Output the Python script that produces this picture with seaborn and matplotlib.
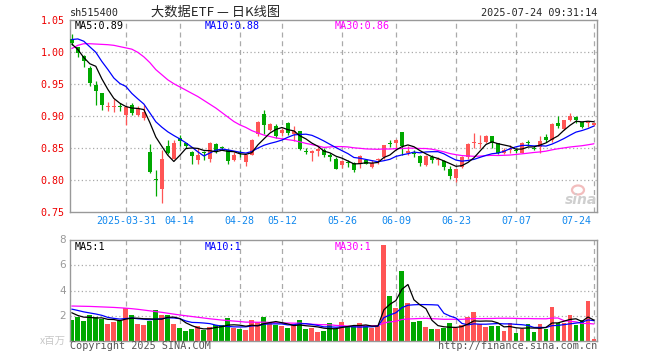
import numpy as np
import pandas as pd
import matplotlib
matplotlib.use("Agg")
import matplotlib.pyplot as plt
from matplotlib.patches import Ellipse
import seaborn as sns

# ---------------- data ----------------
months = {3: [18, 19, 20, 21, 24, 25, 26, 27, 28, 31],
          4: [1, 2, 3, 7, 8, 9, 10, 11, 14, 15, 16, 17, 18, 21, 22, 23, 24, 25, 28, 29, 30],
          5: [6, 7, 8, 9, 12, 13, 14, 15, 16, 19, 20, 21, 22, 23, 26, 27, 28, 29, 30],
          6: [3, 4, 5, 6, 9, 10, 11, 12, 13, 16, 17, 18, 19, 20, 23, 24, 25, 26, 27, 30],
          7: [1, 2, 3, 4, 7, 8, 9, 10, 11, 14, 15, 16, 17, 18, 21, 22, 23, 24]}
dates = [f"2025-{m:02d}-{d:02d}" for m, ds in months.items() for d in ds]

tick_dates = ["2025-03-31", "2025-04-14", "2025-04-28", "2025-05-12", "2025-05-26",
              "2025-06-09", "2025-06-23", "2025-07-07", "2025-07-24"]
tick_labels = ["2025-03-31", "04-14", "04-28", "05-12", "05-26", "06-09", "06-23", "07-07", "07-24"]

opens = [1.0214, 1.0078, 0.9948, 0.9755, 0.9495, 0.9365, 0.9150, 0.9145, 0.9148, 0.9026,
         0.9172, 0.9016, 0.8974, 0.8443, 0.8016, 0.7870, 0.8534, 0.8340, 0.8658, 0.8575,
         0.8440, 0.8316, 0.8440, 0.8340, 0.8560, 0.8512, 0.8480, 0.8316, 0.8435, 0.8290,
         0.8400, 0.8720, 0.9030, 0.8790, 0.8850, 0.8740, 0.8896, 0.8724, 0.8766, 0.8448,
         0.8430, 0.8464, 0.8480, 0.8400, 0.8340, 0.8240, 0.8285, 0.8264, 0.8250, 0.8316,
         0.8212, 0.8322, 0.8368, 0.8578, 0.8585, 0.8756, 0.8427, 0.8422, 0.8385, 0.8245,
         0.8368, 0.8320, 0.8306, 0.8170, 0.8030, 0.8212, 0.8368, 0.8575, 0.8570, 0.8600,
         0.8690, 0.8575, 0.8430, 0.8478, 0.8475, 0.8430, 0.8595, 0.8503, 0.8513, 0.8680,
         0.8630, 0.8896, 0.8808, 0.8948, 0.8990, 0.8910, 0.8890, 0.8860]
highs = [1.0286, 1.0090, 0.9960, 0.9792, 0.9547, 0.9370, 0.9224, 0.9266, 0.9210, 0.9150,
         0.9210, 0.9160, 0.9170, 0.8568, 0.8160, 0.8480, 0.8627, 0.8637, 0.8705, 0.8580,
         0.8460, 0.8510, 0.8460, 0.8600, 0.8575, 0.8530, 0.8490, 0.8446, 0.8480, 0.8410,
         0.8650, 0.8930, 0.9100, 0.8895, 0.8880, 0.8810, 0.8910, 0.8844, 0.8776, 0.8505,
         0.8480, 0.8516, 0.8500, 0.8430, 0.8360, 0.8310, 0.8316, 0.8280, 0.8394, 0.8326,
         0.8316, 0.8350, 0.8550, 0.8627, 0.8653, 0.8760, 0.8530, 0.8480, 0.8400, 0.8395,
         0.8394, 0.8358, 0.8310, 0.8223, 0.8180, 0.8378, 0.8585, 0.8740, 0.8705, 0.8705,
         0.8700, 0.8585, 0.8500, 0.8550, 0.8500, 0.8600, 0.8627, 0.8530, 0.8690, 0.8720,
         0.8896, 0.9000, 0.8948, 0.9050, 0.9000, 0.8912, 0.8910, 0.8896]
lows = [1.0120, 0.9920, 0.9776, 0.9480, 0.9170, 0.9104, 0.9089, 0.9063, 0.9080, 0.8870,
        0.9026, 0.9000, 0.8950, 0.8110, 0.7750, 0.7640, 0.8410, 0.8330, 0.8530, 0.8500,
        0.8260, 0.8260, 0.8320, 0.8280, 0.8430, 0.8470, 0.8260, 0.8295, 0.8370, 0.8220,
        0.8390, 0.8690, 0.8720, 0.8770, 0.8660, 0.8698, 0.8714, 0.8610, 0.8480, 0.8410,
        0.8300, 0.8375, 0.8370, 0.8300, 0.8170, 0.8187, 0.8210, 0.8135, 0.8187, 0.8250,
        0.8187, 0.8260, 0.8340, 0.8523, 0.8510, 0.8394, 0.8400, 0.8360, 0.8220, 0.8230,
        0.8264, 0.8238, 0.8160, 0.8016, 0.7980, 0.8187, 0.8340, 0.8500, 0.8510, 0.8575,
        0.8510, 0.8410, 0.8410, 0.8430, 0.8420, 0.8420, 0.8530, 0.8470, 0.8430, 0.8600,
        0.8600, 0.8810, 0.8780, 0.8927, 0.8896, 0.8810, 0.8834, 0.8845]
closes = [1.0146, 0.9984, 0.9860, 0.9516, 0.9400, 0.9172, 0.9160, 0.9152, 0.9140, 0.9141,
          0.9052, 0.9130, 0.9062, 0.8130, 0.8005, 0.8330, 0.8430, 0.8575, 0.8610, 0.8534,
          0.8380, 0.8390, 0.8420, 0.8590, 0.8446, 0.8500, 0.8306, 0.8394, 0.8425, 0.8400,
          0.8637, 0.8910, 0.8860, 0.8880, 0.8685, 0.8790, 0.8740, 0.8766, 0.8495, 0.8443,
          0.8460, 0.8495, 0.8390, 0.8360, 0.8180, 0.8306, 0.8275, 0.8160, 0.8378, 0.8254,
          0.8275, 0.8326, 0.8550, 0.8573, 0.8637, 0.8539, 0.8464, 0.8410, 0.8270, 0.8385,
          0.8316, 0.8326, 0.8213, 0.8067, 0.8170, 0.8368, 0.8575, 0.8580, 0.8585, 0.8690,
          0.8575, 0.8430, 0.8480, 0.8483, 0.8460, 0.8590, 0.8585, 0.8495, 0.8620, 0.8630,
          0.8880, 0.8845, 0.8938, 0.9000, 0.8948, 0.8834, 0.8896, 0.8896]
volumes = [1.65, 1.92, 1.57, 2.05, 1.92, 1.71, 1.33, 1.49, 1.57, 2.59,
           2.05, 1.33, 1.25, 1.57, 2.45, 2.05, 2.05, 1.33, 1.01, 0.77,
           0.93, 1.17, 0.91, 1.09, 1.25, 1.25, 1.79, 1.04, 0.93, 0.85,
           1.65, 1.52, 1.89, 1.39, 1.25, 1.20, 1.01, 1.25, 1.65, 0.93,
           1.01, 0.72, 0.77, 1.44, 0.93, 1.49, 1.12, 1.17, 1.41, 1.17,
           1.04, 1.17, 7.57, 3.60, 2.64, 5.52, 3.04, 1.52, 1.60, 1.12,
           0.93, 0.93, 1.04, 1.44, 1.04, 1.25, 1.92, 2.32, 1.31, 1.12,
           1.20, 1.20, 0.77, 1.44, 0.64, 0.99, 1.33, 0.72, 1.36, 0.99,
           2.72, 1.39, 1.39, 2.05, 1.25, 1.65, 3.17, 0.13]
# sessions before the visible window (only feed the moving averages)
prior_closes = [0.848, 0.911, 0.952, 0.955, 0.932, 0.931, 0.945, 0.974, 0.974, 0.965,
                1.063, 1.116, 1.083, 1.130, 1.073, 1.083, 1.038, 1.011, 1.003, 0.990,
                0.989, 1.022, 1.039, 1.025, 1.060, 1.041, 1.049, 1.000, 0.960]
prior_volumes = [2.22, 1.87, 2.35, 2.52, 2.31, 1.93, 2.09, 2.47, 3.49, 3.25,
                 2.83, 3.05, 3.37, 4.25, 3.85, 4.15, 3.43, 3.11, 2.57, 2.73,
                 2.97, 2.71, 2.89, 2.75, 2.75, 2.99, 2.24, 2.13, 2.17]
price_ticks = [1.05, 1.00, 0.95, 0.90, 0.85, 0.80, 0.75]
vol_ticks = [8, 6, 4, 2]

# ---------------- derived ----------------
n = len(closes)
idx = np.arange(n)
o = np.array(opens); h = np.array(highs); l = np.array(lows); c = np.array(closes)
v = np.array(volumes)
up = c >= o
RED, GREEN = "#FF5555", "#00A800"
cols = np.where(up, RED, GREEN)

full_c = pd.Series(prior_closes + closes)
full_v = pd.Series(prior_volumes + volumes)
npre = len(prior_closes)
ma = {w: full_c.rolling(w).mean().values[npre:] for w in (5, 10, 30)}
vma = {w: full_v.rolling(w, min_periods=1).mean().values[npre:] for w in (5, 10, 30)}
tick_idx = [dates.index(d) for d in tick_dates]

# ---------------- figure ----------------
sns.set_style("white")
plt.rcParams["font.family"] = ["DejaVu Sans Mono", "Noto Sans CJK SC"]
W, H = 660, 360
fig = plt.figure(figsize=(W / 100, H / 100), dpi=100)

def fx(px):
    return px / W

def fy(py):
    return 1 - py / H

L, R = 70, 597
ax = fig.add_axes([fx(L), fy(212.3), (R - L) / W, 192 / H])
axv = fig.add_axes([fx(L), fy(341), (R - L) / W, 101 / H])
XL = (-0.3, 87.5)
GRID = "#AAAAAA"
MAC = {5: "black", 10: "#0000FF", 30: "#FF00FF"}

for a in (ax, axv):
    a.set_xlim(*XL)
    for s in a.spines.values():
        s.set_color("#999999")
        s.set_linewidth(1.0)
    a.tick_params(length=0)
    a.set_xticks([])
    for k in tick_idx:
        a.axvline(k, color=GRID, lw=0.9, ls=(0, (4, 3)), zorder=0)

# price panel
ax.set_ylim(0.75, 1.05)
for lv in price_ticks[1:-1]:
    ax.axhline(lv, color=GRID, lw=0.9, ls=(0, (1, 2)), zorder=0)
ax.vlines(idx, l, h, colors=cols, lw=0.9, zorder=2)
body_h = np.maximum(np.abs(c - o), 0.0016)
ax.bar(idx, body_h, bottom=np.minimum(o, c), width=0.72, color=cols, linewidth=0, zorder=3)
for w in (30, 10, 5):
    sns.lineplot(x=idx, y=ma[w], ax=ax, color=MAC[w], lw=0.9, zorder=4, legend=False)
ax.set_ylabel(""); ax.set_xlabel("")
ax.set_yticks(price_ticks)
ax.set_yticklabels([f"{t:.2f}" for t in price_ticks], color="#EE0000", fontsize=7.2)
ax.tick_params(axis="y", pad=4)
xt = ax.get_xaxis_transform()
for k, lab in zip(tick_idx, tick_labels):
    if k == n - 1:
        ax.text(86.6, -0.047, lab, transform=xt, ha="right", va="center",
                color="#1188EE", fontsize=7.2)
    else:
        ax.text(k, -0.047, lab, transform=xt, ha="center", va="center",
                color="#1188EE", fontsize=7.2)

# volume panel
axv.set_ylim(0, 8)
for lv in vol_ticks[1:]:
    axv.axhline(lv, color=GRID, lw=0.9, ls=(0, (1, 2)), zorder=0)
axv.bar(idx, v, width=0.82, color=cols, linewidth=0, zorder=2)
for w in (30, 10, 5):
    sns.lineplot(x=idx, y=vma[w], ax=axv, color=MAC[w], lw=0.9, zorder=4, legend=False)
axv.set_ylabel(""); axv.set_xlabel("")
axv.set_yticks([])
for t in vol_ticks:
    fig.text(fx(66), fy(341 - t * 12.625), str(t), ha="right", va="center",
             color="#999999", fontsize=7.5, family="DejaVu Sans")
fig.text(fx(66), fy(340.5), "x百万", ha="right", va="center", color="#C8C8C8",
         fontsize=7.5, family=["Noto Sans CJK SC", "DejaVu Sans"])

# header texts
fig.text(fx(216), fy(12.5), "大数据ETF — 日K线图", ha="center", va="center",
         fontsize=9.5, family=["Noto Sans CJK SC", "DejaVu Sans"])
fig.text(fx(70), fy(13), "sh515400", ha="left", va="center", fontsize=7.3)
fig.text(fx(597), fy(13), "2025-07-24 09:31:14", ha="right", va="center", fontsize=7.3)

fig.text(fx(75), fy(26), f"MA5:{ma[5][-1]:.2f}", color=MAC[5], fontsize=7.3, va="center")
fig.text(fx(205), fy(26), f"MA10:{ma[10][-1]:.2f}", color=MAC[10], fontsize=7.3, va="center")
fig.text(fx(335), fy(26), f"MA30:{ma[30][-1]:.2f}", color=MAC[30], fontsize=7.3, va="center")
fig.text(fx(75), fy(247), f"MA5:{int(vma[5][-1])}", color=MAC[5], fontsize=7.3, va="center")
fig.text(fx(205), fy(247), f"MA10:{int(vma[10][-1])}", color=MAC[10], fontsize=7.3, va="center")
fig.text(fx(335), fy(247), f"MA30:{int(vma[30][-1])}", color=MAC[30], fontsize=7.3, va="center")

fig.text(fx(70), fy(346), "Copyright 2025 SINA.COM", ha="left", va="center",
         color="#555555", fontsize=7.3)
fig.text(fx(597), fy(346), "http://finance.sina.com.cn", ha="right", va="center",
         color="#555555", fontsize=7.3)

# sina watermark
fig.patches.append(Ellipse((fx(578), fy(190)), 12 / W, 9 / H, transform=fig.transFigure,
                           facecolor="none", edgecolor="#F2BDBD", lw=1.6))
fig.text(fx(581), fy(200), "sina", ha="center", va="center", color="#CFCFCF",
         fontsize=10, style="italic", weight="bold", family="DejaVu Sans")

fig.savefig("out.png", dpi=100)
